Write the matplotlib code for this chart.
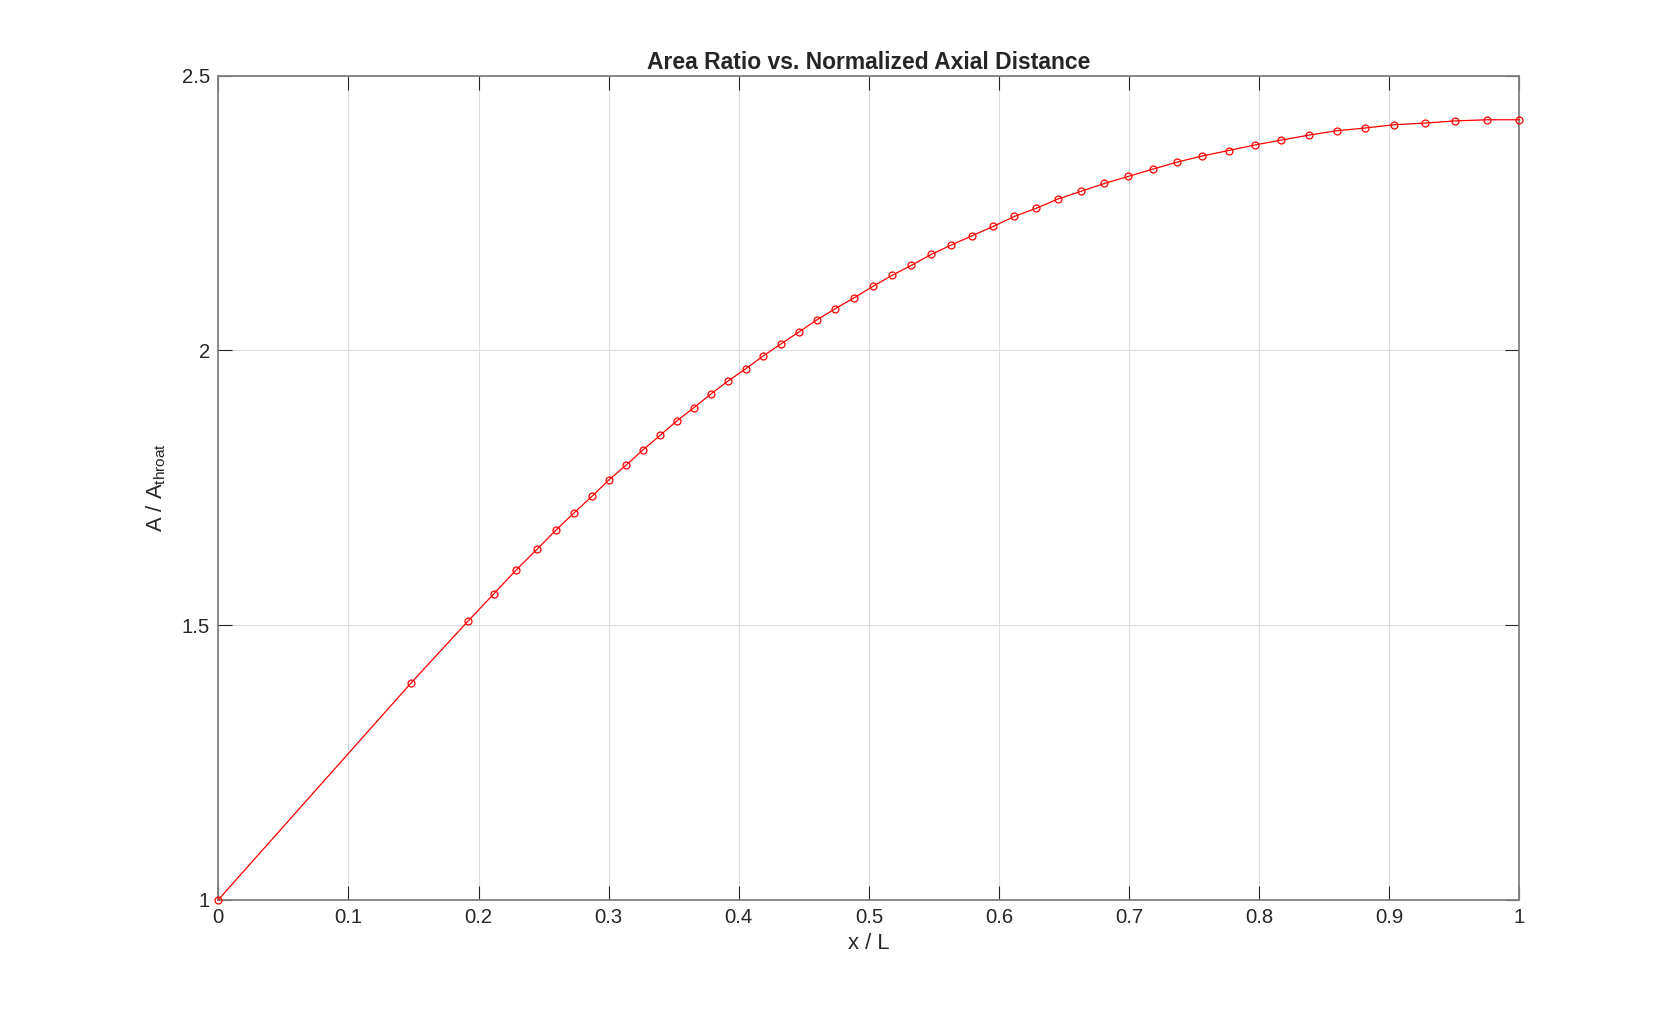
import numpy as np
import matplotlib

matplotlib.use("Agg")
import matplotlib.pyplot as plt

# normalized axial position and area ratio
x_over_L = [0.0, 0.1479, 0.1918, 0.2118, 0.2287, 0.2449, 0.2595, 0.2733, 0.2874,
            0.3005, 0.3133, 0.3264, 0.3398, 0.3525, 0.3656, 0.3787, 0.3921, 0.4056,
            0.4187, 0.4325, 0.4464, 0.4602, 0.4741, 0.4887, 0.5033, 0.5180, 0.5326,
            0.5480, 0.5633, 0.5795, 0.5956, 0.6118, 0.6287, 0.6456, 0.6633, 0.6810,
            0.6995, 0.7180, 0.7370, 0.7560, 0.7764, 0.7964, 0.8169, 0.8380, 0.8595,
            0.8815, 0.9038, 0.9277, 0.9508, 0.9754, 1.0]
area_ratio = [1.0, 1.394, 1.507, 1.557, 1.600, 1.638, 1.673, 1.704, 1.735,
              1.765, 1.791, 1.819, 1.846, 1.872, 1.896, 1.921, 1.945, 1.967,
              1.990, 2.012, 2.034, 2.056, 2.076, 2.096, 2.117, 2.137, 2.155,
              2.175, 2.192, 2.209, 2.226, 2.244, 2.259, 2.276, 2.290, 2.304,
              2.317, 2.330, 2.343, 2.354, 2.364, 2.374, 2.383, 2.392, 2.400,
              2.405, 2.411, 2.414, 2.418, 2.420, 2.420]

x_ticks = [0, 0.1, 0.2, 0.3, 0.4, 0.5, 0.6, 0.7, 0.8, 0.9, 1]
x_tick_labels = ["0", "0.1", "0.2", "0.3", "0.4", "0.5", "0.6", "0.7", "0.8", "0.9", "1"]
y_ticks = [1, 1.5, 2, 2.5]
y_tick_labels = ["1", "1.5", "2", "2.5"]

plt.rcParams["font.family"] = ["Liberation Sans", "DejaVu Sans"]
plt.rcParams["mathtext.fontset"] = "custom"
plt.rcParams["mathtext.rm"] = "Liberation Sans"
plt.rcParams["mathtext.it"] = "Liberation Sans:italic"

text_color = "#262626"

fig = plt.figure(figsize=(16.79, 10.11), dpi=100)
ax = fig.add_axes([0.13, 0.11, 0.775, 0.815])

ax.plot(x_over_L, area_ratio, color="red", linewidth=0.9, marker="o",
        markersize=5.0, markerfacecolor="none", markeredgecolor="red",
        markeredgewidth=0.9, clip_on=False, zorder=3)

ax.set_xlim(0, 1)
ax.set_ylim(1, 2.5)
ax.set_xticks(x_ticks)
ax.set_xticklabels(x_tick_labels)
ax.set_yticks(y_ticks)
ax.set_yticklabels(y_tick_labels)

ax.grid(True, color="#dcdcdc", linewidth=0.8)
ax.set_axisbelow(True)

ax.tick_params(direction="in", length=10, width=0.8, color=text_color,
               labelcolor=text_color, labelsize=14.6, top=True, right=True, pad=6)
for sp in ax.spines.values():
    sp.set_color("#808080")
    sp.set_linewidth(1.3)

ax.set_xlabel("x / L", fontsize=15.8, color=text_color, labelpad=4)
ax.set_ylabel(r"A / A$_{\mathrm{throat}}$", fontsize=15.8, color=text_color, labelpad=10)
ax.set_title("Area Ratio vs. Normalized Axial Distance", fontsize=16.5,
             fontweight="bold", color=text_color, pad=5)

fig.savefig("out.png", dpi=100)
plt.close(fig)
